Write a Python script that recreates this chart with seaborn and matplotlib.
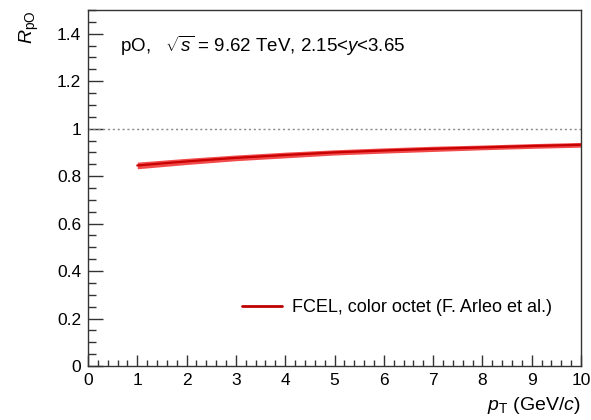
import numpy as np
import pandas as pd
import matplotlib
matplotlib.use("Agg")
import matplotlib.pyplot as plt
from matplotlib.ticker import MultipleLocator, FuncFormatter
import seaborn as sns

# Data
pt = [1, 2, 3, 4, 5, 6, 7, 8, 9, 10]
rpo = [0.845, 0.862, 0.877, 0.889, 0.900, 0.908, 0.915, 0.921, 0.927, 0.932]
rpo_err = [0.014, 0.013, 0.012, 0.012, 0.011, 0.011, 0.011, 0.010, 0.010, 0.010]
legend_label = "FCEL, color octet (F. Arleo et al.)"
x_ticks = [0, 1, 2, 3, 4, 5, 6, 7, 8, 9, 10]
y_ticks = [0, 0.2, 0.4, 0.6, 0.8, 1.0, 1.2, 1.4]

sns.set_theme(style="ticks")
plt.rcParams["font.family"] = ["Liberation Sans", "DejaVu Sans"]
plt.rcParams["mathtext.fontset"] = "custom"
plt.rcParams["mathtext.rm"] = "Liberation Sans"
plt.rcParams["mathtext.it"] = "Liberation Sans:italic"
plt.rcParams["text.color"] = "black"
plt.rcParams["xtick.labelcolor"] = "black"
plt.rcParams["ytick.labelcolor"] = "black"

df = pd.DataFrame({"pt": pt, "rpo": rpo, "err": rpo_err})

fig = plt.figure(figsize=(5.91, 4.2), dpi=100)
ax = fig.add_axes([88 / 591, 54 / 420, (581 - 88) / 591, (366 - 10) / 420])

lo = np.array(rpo) - np.array(rpo_err)
hi = np.array(rpo) + np.array(rpo_err)
ax.fill_between(df["pt"], lo, hi, color="#f24a4a", lw=0, zorder=2)
sns.lineplot(data=df, x="pt", y="rpo", ax=ax, color="#c80000", lw=1.6,
             label=legend_label, zorder=3)

ax.axhline(1.0, color="#888888", lw=1.0, ls=(0, (1.5, 2)), zorder=1)

ax.set_xlim(0, 10)
ax.set_ylim(0, 1.5)
ax.set_xticks(x_ticks)
ax.set_yticks(y_ticks)
ax.xaxis.set_minor_locator(MultipleLocator(0.2))
ax.yaxis.set_minor_locator(MultipleLocator(0.05))
ax.yaxis.set_major_formatter(FuncFormatter(lambda v, p: f"{v:g}"))
ax.tick_params(axis="x", which="major", direction="in", length=8, width=1,
               labelsize=12.5, color="#333333", pad=5)
ax.tick_params(axis="x", which="minor", direction="in", length=4, width=1,
               color="#333333")
ax.tick_params(axis="y", which="major", direction="in", length=11, width=1,
               labelsize=12.5, color="#333333", pad=5)
ax.tick_params(axis="y", which="minor", direction="in", length=5.5, width=1,
               color="#333333")
for s in ax.spines.values():
    s.set_linewidth(1.0)
    s.set_color("#333333")

ax.set_xlabel("")
ax.set_ylabel("")
fig.text(581 / 591, 4 / 420, r"$p_{\mathrm{T}}$ (GeV/$c$)", ha="right", va="bottom",
         fontsize=14)
fig.text(18 / 591, 1 - 10 / 420, r"$R_{\mathrm{pO}}$", ha="left", va="top",
         fontsize=14, rotation=90)

ax.text(0.065, 0.9, r"pO,   $\sqrt{s}$ = 9.62 TeV, 2.15<$y$<3.65",
        transform=ax.transAxes, fontsize=13.5, ha="left", va="center")

leg = ax.legend(loc="lower right", bbox_to_anchor=(0.975, 0.094), frameon=False,
                fontsize=13, handlelength=2.2, handletextpad=0.6)
for line in leg.get_lines():
    line.set_linewidth(2.0)
    line.set_color("#c00000")

fig.savefig("out.png", dpi=100)
